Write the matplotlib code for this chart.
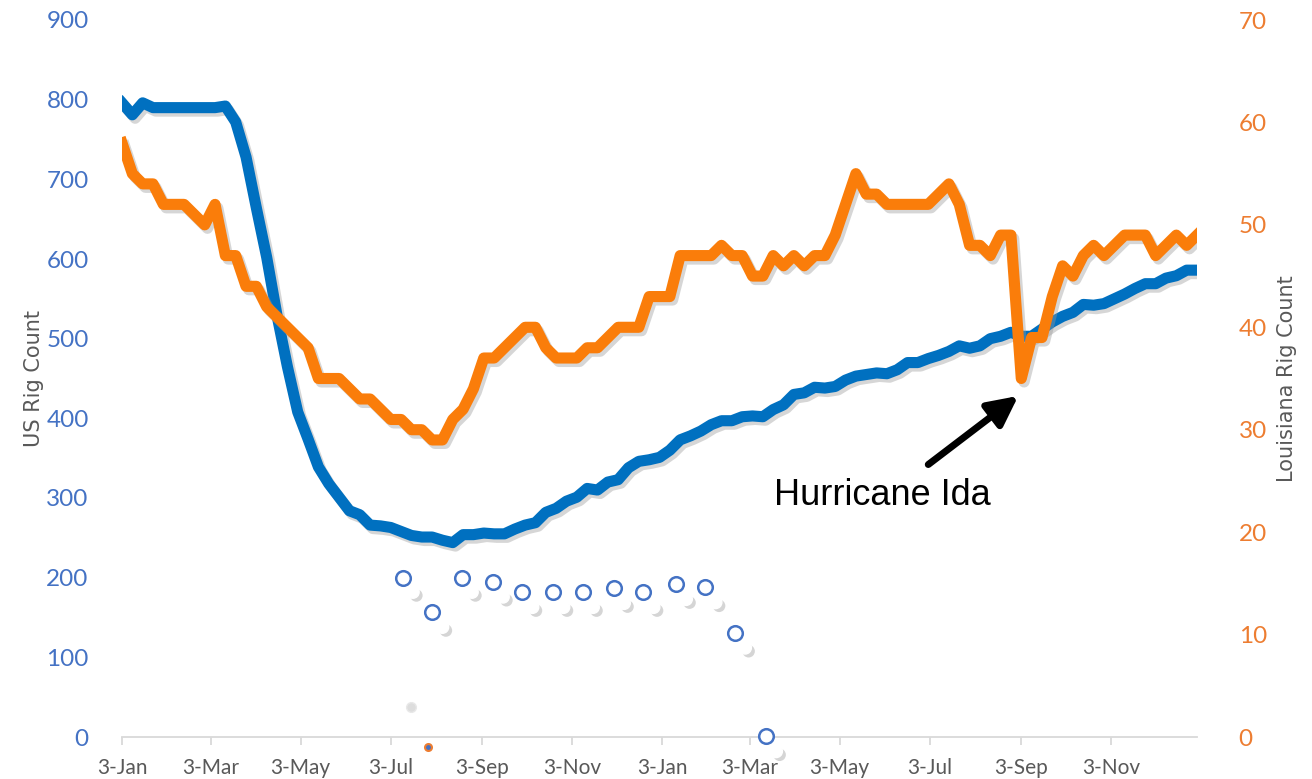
import numpy as np
import pandas as pd
import matplotlib
matplotlib.use('Agg')
import matplotlib.pyplot as plt
import matplotlib.patheffects as pe

# weekly rig counts, Fridays from 3-Jan-2020 to 31-Dec-2021
start = '2020-01-03'
us_rigs = [796, 781, 796, 790, 790, 790, 790, 790, 790, 790, 792, 772, 728, 664, 602, 529, 465, 408,
           374, 339, 318, 301, 284, 279, 266, 265, 263, 258, 253, 251, 251, 247, 244, 254, 254, 256,
           255, 255, 261, 266, 269, 282, 287, 296, 301, 312, 310, 320, 323, 338, 346, 348, 351,
           360, 373, 378, 384, 392, 397, 397, 402, 403, 402, 411, 417, 430, 432, 439, 438, 440,
           448, 453, 455, 457, 456, 461, 470, 470, 475, 479, 484, 491, 488, 491, 500, 503, 508,
           503, 503, 512, 521, 528, 533, 543, 542, 544, 550, 556, 563, 569, 569, 576, 579, 586, 586]
la_rigs = [58, 55, 54, 54, 52, 52, 52, 51, 50, 52, 47, 47, 44, 44, 42, 41, 40, 39, 38, 35, 35, 35,
           34, 33, 33, 32, 31, 31, 30, 30, 29, 29, 31, 32, 34, 37, 37, 38, 39, 40, 40, 38, 37, 37,
           37, 38, 38, 39, 40, 40, 40, 43, 43, 43, 47, 47, 47, 47, 48, 47, 47, 45, 45, 47, 46, 47,
           46, 47, 47, 49, 52, 55, 53, 53, 52, 52, 52, 52, 52, 53, 54, 52, 48, 48, 47, 49, 49, 35,
           39, 39, 43, 46, 45, 47, 48, 47, 48, 49, 49, 49, 47, 48, 49, 48, 49]

# stray markers left in the chart (days after start, left-axis value)
ring_days = [190, 210, 230, 251, 271, 292, 312, 333, 353, 375, 395, 415, 436]
ring_vals = [200, 157, 200, 194, 182, 182, 182, 187, 182, 192, 188, 130, 1]
dot_days = [197, 217, 237, 258, 278, 299, 319, 340, 360, 382, 402, 422, 443]
dot_vals = [182, 138, 182, 176, 163, 163, 163, 168, 163, 173, 169, 112, -18]
grey_day, grey_val = 196, 38
orange_day, orange_val = 207, -12.5

tick_dates = ['2020-01-03', '2020-03-03', '2020-05-03', '2020-07-03', '2020-09-03', '2020-11-03',
              '2021-01-03', '2021-03-03', '2021-05-03', '2021-07-03', '2021-09-03', '2021-11-03']

dates = pd.date_range(start, periods=len(us_rigs), freq='7D')
t0 = pd.Timestamp(start)
to_date = lambda d: [t0 + pd.Timedelta(days=x) for x in d]

BLUE = '#0070C0'
ORANGE = '#FA7D0A'
shadow = [pe.SimpleLineShadow(offset=(2, -2.5), shadow_color='#999999', alpha=0.4), pe.Normal()]

plt.rcParams['font.family'] = ['Lato', 'DejaVu Sans']
fig = plt.figure(figsize=(13.12, 7.79), dpi=100)
ax = fig.add_axes([122/1312, 1-737/779, (1197-122)/1312, (737-20)/779])
ax2 = ax.twinx()

ax.plot(dates, us_rigs, color=BLUE, lw=8, solid_joinstyle='round', path_effects=shadow, zorder=3)
ax2.plot(dates, la_rigs, color=ORANGE, lw=8, solid_joinstyle='round', path_effects=shadow, zorder=3)

dot_fx = [pe.SimplePatchShadow(offset=(2.5, -2.5), shadow_rgbFace='#888888', alpha=0.35), pe.Normal()]
ax.plot(to_date(dot_days), dot_vals, ls='none', marker='o', ms=9, mfc='white', mec='white',
        path_effects=dot_fx, clip_on=False, zorder=2)
ax.plot(to_date(ring_days), ring_vals, ls='none', marker='o', ms=10.5, mfc='white', mec='#4472C4',
        mew=1.8, clip_on=False, zorder=4)
ax.plot(to_date([grey_day]), [grey_val], ls='none', marker='o', ms=7, mfc='#DDDDDD', mec='#E8E8E8',
        clip_on=False, zorder=2)
ax.plot(to_date([orange_day]), [orange_val], ls='none', marker='o', ms=5, mfc='#4472C4', mec='#ED7D31',
        mew=1.5, clip_on=False, zorder=2)

ax.set_xlim(dates[0], dates[-1])
ax.set_ylim(0, 900)
ax2.set_ylim(0, 70)
ax.set_yticks(range(0, 901, 100))
ax2.set_yticks(range(0, 71, 10))
ticks = pd.to_datetime(tick_dates)
ax.set_xticks(ticks)
ax.set_xticklabels([f'{d.day}-{d.strftime("%b")}' for d in ticks])

for a in (ax, ax2):
    for s in a.spines.values():
        s.set_visible(False)
ax.spines['bottom'].set_visible(True)
ax.spines['bottom'].set_color('#D9D9D9')
ax.spines['bottom'].set_linewidth(1.3)
ax.tick_params(axis='x', colors='#D9D9D9', labelcolor='#595959', labelsize=15, length=6, width=1.3, pad=9)
ax.tick_params(axis='y', length=0, labelcolor='#4472C4', labelsize=17.5, pad=24)
ax2.tick_params(axis='y', length=0, labelcolor='#ED7D31', labelsize=17.5, pad=30)

ax.set_ylabel('US Rig Count', family=['Liberation Sans Narrow', 'DejaVu Sans'], fontsize=15,
              color='#595959', labelpad=2)
ax2.set_ylabel('Louisiana Rig Count', family=['Liberation Sans Narrow', 'DejaVu Sans'], fontsize=15,
               color='#595959', labelpad=7)

ax.patch.set_visible(False)
ax2.patch.set_visible(False)

ax2.annotate('', xy=(t0 + pd.Timedelta(days=607), 33.3), xytext=(t0 + pd.Timedelta(days=546), 26.6),
             arrowprops=dict(arrowstyle='-|>,head_length=0.9,head_width=0.45', lw=5, color='black',
                             mutation_scale=20, shrinkA=0, shrinkB=0), zorder=5)
ax2.text(t0 + pd.Timedelta(days=515), 23.6, 'Hurricane Ida', family=['Liberation Sans', 'DejaVu Sans'],
         fontsize=26, ha='center', va='center', color='black', zorder=5)

fig.savefig('out.png', dpi=100)
